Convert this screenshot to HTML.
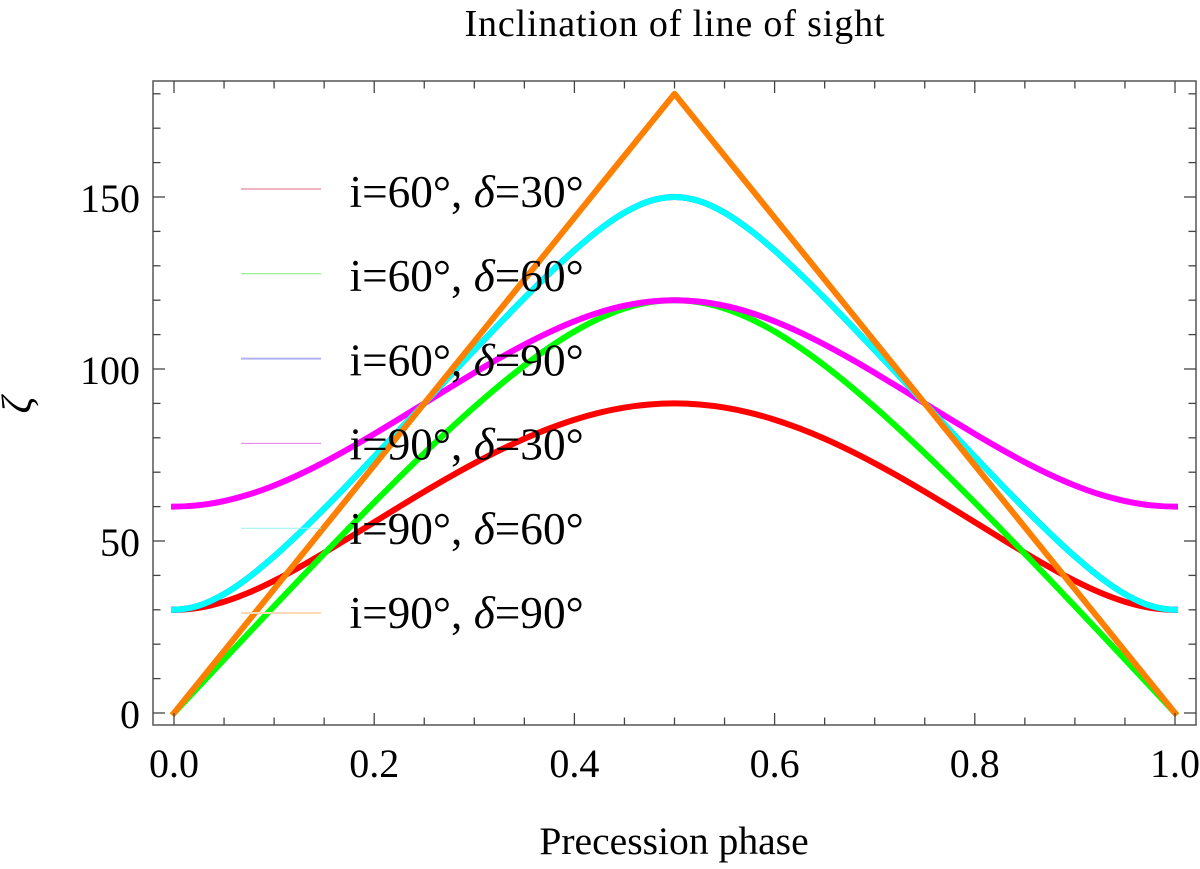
<!DOCTYPE html>
<html lang="en">
<head>
<meta charset="utf-8">
<title>Inclination of line of sight</title>
<style>
html,body{margin:0;padding:0;background:#fff;width:1200px;height:869px;overflow:hidden}
svg{display:block}
text{font-family:"Liberation Serif",serif;fill:#000}
</style>
</head>
<body>
<svg id="chart" width="1200" height="869" viewBox="0 0 1200 869" xmlns="http://www.w3.org/2000/svg"></svg>
<script>
const phases = [0,0.025,0.05,0.075,0.1,0.125,0.15,0.175,0.2,0.225,0.25,0.275,0.3,0.325,0.35,0.375,0.4,0.425,0.45,0.475,0.5,0.525,0.55,0.575,0.6,0.625,0.65,0.675,0.7,0.725,0.75,0.775,0.8,0.825,0.85,0.875,0.9,0.925,0.95,0.975,1];
const i60d30 = [30,30.6,32.35,35.03,38.43,42.34,46.57,50.98,55.47,59.95,64.34,68.57,72.59,76.32,79.72,82.71,85.26,87.3,88.79,89.69,90,89.69,88.79,87.3,85.26,82.71,79.72,76.32,72.59,68.57,64.34,59.95,55.47,50.98,46.57,42.34,38.43,35.03,32.35,30.6,30];
const i60d60 = [0,7.79,15.58,23.33,31.06,38.71,46.3,53.81,61.2,68.45,75.52,82.38,88.95,95.19,101,106.28,110.9,114.72,117.6,119.39,120,119.39,117.6,114.72,110.9,106.28,101,95.19,88.95,82.38,75.52,68.45,61.2,53.81,46.3,38.71,31.06,23.33,15.58,7.79,0];
const i60d90 = [30,31.2,34.55,39.49,45.52,52.24,59.4,66.85,74.48,82.21,90,97.79,105.52,113.15,120.6,127.76,134.48,140.51,145.45,148.8,150,148.8,145.45,140.51,134.48,127.76,120.6,113.15,105.52,97.79,90,82.21,74.48,66.85,59.4,52.24,45.52,39.49,34.55,31.2,30];
const i90d30 = [60,60.41,61.61,63.54,66.14,69.3,72.91,76.88,81.11,85.51,90,94.49,98.89,103.12,107.09,110.7,113.86,116.46,118.39,119.59,120,119.59,118.39,116.46,113.86,110.7,107.09,103.12,98.89,94.49,90,85.51,81.11,76.88,72.91,69.3,66.14,63.54,61.61,60.41,60];
const i90d60 = [30,31.2,34.55,39.49,45.52,52.24,59.4,66.85,74.48,82.21,90,97.79,105.52,113.15,120.6,127.76,134.48,140.51,145.45,148.8,150,148.8,145.45,140.51,134.48,127.76,120.6,113.15,105.52,97.79,90,82.21,74.48,66.85,59.4,52.24,45.52,39.49,34.55,31.2,30];
const i90d90 = [0,9,18,27,36,45,54,63,72,81,90,99,108,117,126,135,144,153,162,171,180,171,162,153,144,135,126,117,108,99,90,81,72,63,54,45,36,27,18,9,0];
const xMajorTicks = [0,0.2,0.4,0.6,0.8,1];
const xMinorTicks = [0.05,0.1,0.15,0.25,0.3,0.35,0.45,0.5,0.55,0.65,0.7,0.75,0.85,0.9,0.95];
const yMajorTicks = [0,50,100,150];
const yMinorTicks = [10,20,30,40,60,70,80,90,110,120,130,140,160,170,180];
const xTickLabels = ["0.0","0.2","0.4","0.6","0.8","1.0"];
const yTickLabels = ["0","50","100","150"];
const seriesNames = ["i60-d30","i60-d60","i60-d90","i90-d30","i90-d60","i90-d90"];
const seriesValues = [i60d30,i60d60,i60d90,i90d30,i90d60,i90d90];
const seriesColors = ["#ff0000","#00ff00","#0000ff","#ff00ff","#00ffff","#ff8000"];
const legendColors = ["#dc6c84","#78ee78","#b0b0f2","#e878e0","#98f2f2","#ffd8b4"];
const legendWidths = [1,1,2,1,1,2];
const legendInclinations = ["60","60","60","90","90","90"];
const legendDeltas = ["30","60","90","30","60","90"];

const svg = document.getElementById('chart');
const NS = 'http://www.w3.org/2000/svg';
const frame = {left:153, right:1196, top:81, bottom:725};
const xAxis = v => 174 + v * 1001;
const yAxis = v => 713 - v * 3.44;

function make(tag, attrs, parent, text){
  const el = document.createElementNS(NS, tag);
  for (const k in attrs) el.setAttribute(k, attrs[k]);
  if (text !== undefined) el.textContent = text;
  (parent || svg).appendChild(el);
  return el;
}

/* Smooth path through the sampled values; a sharp change of slope stays a corner. */
function curvePath(vals){
  const n = vals.length;
  const px = vals.map((v, k) => xAxis(phases[k]));
  const py = vals.map(v => yAxis(v));
  const d = [];
  for (let k = 0; k < n - 1; k++) d.push((py[k+1] - py[k]) / (px[k+1] - px[k]));
  const left = new Array(n), right = new Array(n);
  const isCorner = k => Math.abs(Math.atan(d[k]) - Math.atan(d[k-1])) > 0.6;
  for (let k = 1; k < n - 1; k++) {
    if (!isCorner(k)) left[k] = right[k] = (d[k-1] + d[k]) / 2;
  }
  for (let k = 0; k < n - 1; k++) {
    if (right[k] === undefined) right[k] = 2 * d[k] - (left[k+1] !== undefined && k + 1 < n - 1 && !isCorner(k+1) ? (d[k] + d[k+1]) / 2 : d[k]);
  }
  for (let k = 1; k < n; k++) {
    if (left[k] === undefined) left[k] = 2 * d[k-1] - (k - 1 > 0 && !isCorner(k-1) ? (d[k-2] + d[k-1]) / 2 : d[k-1]);
  }
  let path = 'M' + px[0].toFixed(2) + ' ' + py[0].toFixed(2);
  for (let k = 0; k < n - 1; k++) {
    const h = (px[k+1] - px[k]) / 3;
    path += 'C' + (px[k] + h).toFixed(2) + ' ' + (py[k] + right[k] * h).toFixed(2) + ' ' +
            (px[k+1] - h).toFixed(2) + ' ' + (py[k+1] - left[k+1] * h).toFixed(2) + ' ' +
            px[k+1].toFixed(2) + ' ' + py[k+1].toFixed(2);
  }
  return path;
}

const seriesGroup = make('g', {fill:'none'});


seriesValues.forEach((vals, s) => {
  const line = make('path', {d:curvePath(vals), stroke:seriesColors[s], 'stroke-width':6, 'stroke-linejoin':'round', 'stroke-linecap':'square', fill:'none'}, seriesGroup);
  
  
});

const frameRect = make('rect', {x:frame.left, y:frame.top, width:frame.right-frame.left, height:frame.bottom-frame.top, fill:'none', stroke:'#555', 'stroke-width':1.5});



const tickGroup = make('g', {stroke:'#444', 'stroke-width':1.3});


function xTick(v, len){
  const x = xAxis(v);
  make('line', {x1:x, x2:x, y1:frame.bottom, y2:frame.bottom-len}, tickGroup);
  make('line', {x1:x, x2:x, y1:frame.top, y2:frame.top+len}, tickGroup);
}
function yTick(v, len){
  const y = yAxis(v);
  make('line', {x1:frame.left, x2:frame.left+len, y1:y, y2:y}, tickGroup);
  make('line', {x1:frame.right, x2:frame.right-len, y1:y, y2:y}, tickGroup);
}
xMajorTicks.forEach(v => xTick(v, 12));
xMinorTicks.forEach(v => xTick(v, 7.5));
yMajorTicks.forEach(v => yTick(v, 12));
yMinorTicks.forEach(v => yTick(v, 7.5));

xMajorTicks.forEach((v, k) => {
  const t = make('text', {x:xAxis(v), y:777, 'text-anchor':'middle', 'font-size':40}, svg, xTickLabels[k]);
  
  
});
yMajorTicks.forEach((v, k) => {
  const t = make('text', {x:140, y:yAxis(v)+15, 'text-anchor':'end', 'font-size':40}, svg, yTickLabels[k]);
  
  
});

legendDeltas.forEach((d, k) => {
  const y = 189 + k * 84.8;
  const g = make('g', {});
  
  
  make('line', {x1:241, x2:321, y1:y, y2:y, stroke:legendColors[k], 'stroke-width':legendWidths[k]}, g);
  const t = make('text', {x:349.5, y:207 + k * 84.2, 'font-size':45.3}, g);
  make('tspan', {}, t, 'i=' + legendInclinations[k] + '°, ');
  make('tspan', {'font-style':'italic'}, t, 'δ');
  make('tspan', {}, t, '=' + d + '°');
});
</script>
<script>
(function(){
  const s = document.getElementById('chart');
  const ns = 'http://www.w3.org/2000/svg';
  const title = document.createElementNS(ns, 'text');
  title.setAttribute('x', '674.5');
  title.setAttribute('y', '36');
  title.setAttribute('text-anchor', 'middle');
  title.setAttribute('font-size', '38');
  title.setAttribute('textLength', '420');
  
  
  title.textContent = 'Inclination of line of sight';
  s.appendChild(title);
  const xt = document.createElementNS(ns, 'text');
  xt.setAttribute('x', '674');
  xt.setAttribute('y', '854');
  xt.setAttribute('text-anchor', 'middle');
  xt.setAttribute('font-size', '39.6');
  
  
  xt.textContent = 'Precession phase';
  s.appendChild(xt);
  const yt = document.createElementNS(ns, 'text');
  yt.setAttribute('transform', 'translate(31 405) rotate(-90)');
  yt.setAttribute('text-anchor', 'middle');
  yt.setAttribute('font-size', '42');
  yt.setAttribute('font-style', 'italic');
  
  
  yt.textContent = 'ζ';
  s.appendChild(yt);
})();
</script>
</body>
</html>
